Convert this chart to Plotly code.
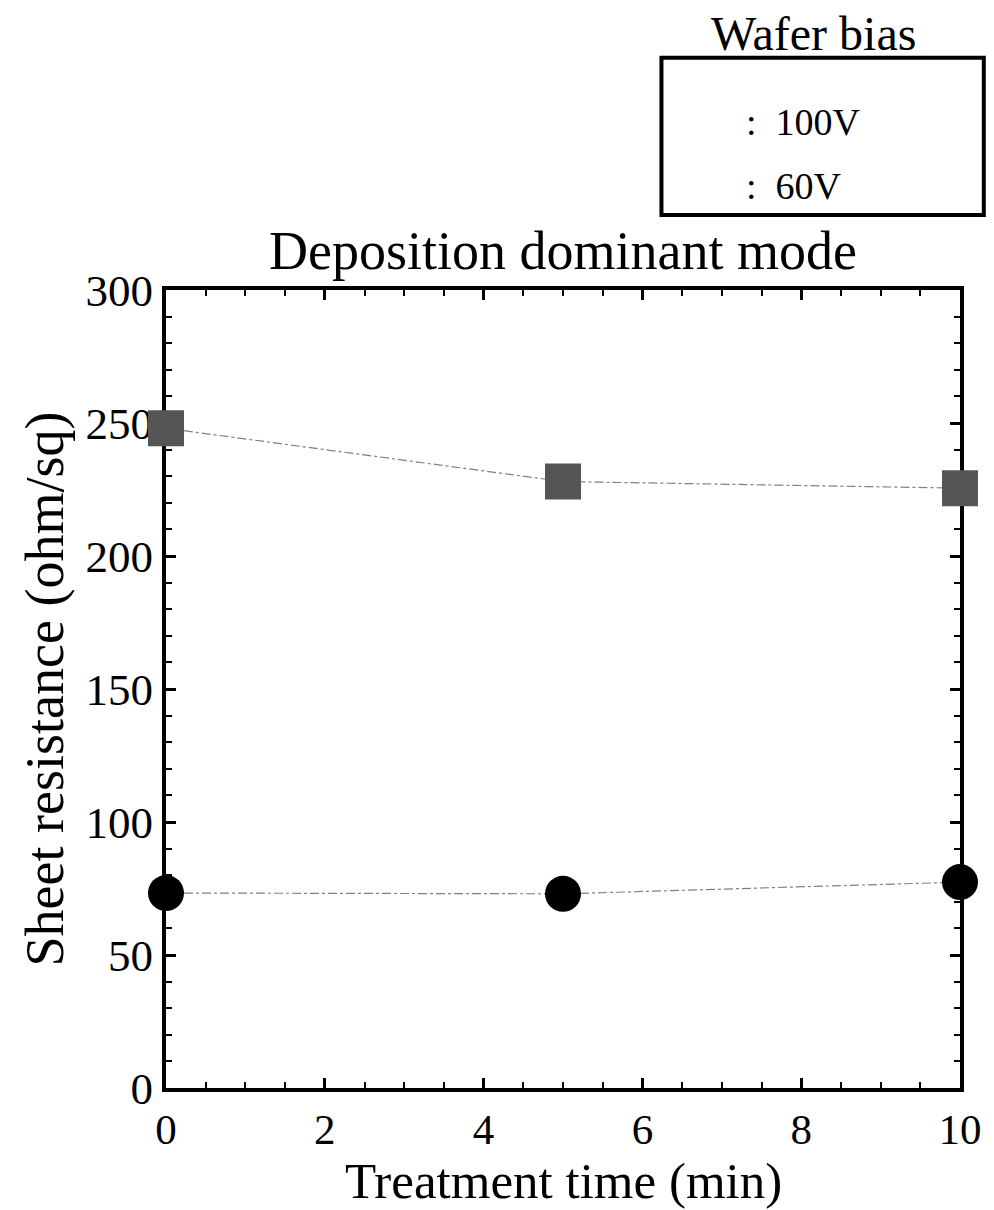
import plotly.graph_objects as go

# Treatment time (min) and sheet resistance (ohm/sq) per wafer bias
time_min = [0, 5, 10]
rs_100v = [248, 228, 225.5]
rs_60v = [73.3, 73, 77.4]
series_labels = ["100V", "60V"]

FONT = "'Liberation Serif', 'Times New Roman', Times, serif"

fig = go.Figure()
fig.add_trace(go.Scatter(
    x=time_min, y=rs_100v, mode="lines+markers", cliponaxis=False,
    line=dict(color="#808080", width=1.2, dash="dashdot"),
    marker=dict(symbol="square", size=36, color="#555555"),
    showlegend=False,
))
fig.add_trace(go.Scatter(
    x=time_min, y=rs_60v, mode="lines+markers", cliponaxis=False,
    line=dict(color="#808080", width=1.2, dash="dashdot"),
    marker=dict(symbol="circle", size=36, color="#000000"),
    showlegend=False,
))

axis_common = dict(
    showline=True, linecolor="black", linewidth=4, mirror="ticks",
    ticks="inside", tickcolor="black", tickwidth=3, ticklen=10,
    showgrid=False, zeroline=False, layer="below traces",
)

fig.update_xaxes(
    range=[0, 10], dtick=2, tick0=0,
    minor=dict(dtick=0.5, ticks="inside", ticklen=6, tickwidth=2, tickcolor="black"),
    tickfont=dict(family=FONT, size=43, color="black"),
    title=None,
    **axis_common,
)
fig.update_yaxes(
    range=[0, 300], dtick=50, tick0=0,
    minor=dict(dtick=10, ticks="inside", ticklen=6, tickwidth=2, tickcolor="black"),
    tickfont=dict(family=FONT, size=45, color="black"),
    title=dict(text="Sheet resistance (ohm/sq)", font=dict(family=FONT, size=54, color="black"), standoff=6),
    **axis_common,
)

# x-axis title placed below the tick labels
fig.add_annotation(xref="paper", yref="paper", x=0.5, y=-0.1165, text="Treatment time (min)",
                   showarrow=False, font=dict(family=FONT, size=51, color="black"),
                   xanchor="center", yanchor="middle")

# Legend box drawn with shapes and text
fig.add_shape(type="rect", xref="paper", yref="paper",
              x0=0.624, x1=1.03, y0=1.094, y1=1.291,
              line=dict(color="black", width=4), fillcolor="white")
fig.add_annotation(xref="paper", yref="paper", x=0.815, y=1.322, text="Wafer bias",
                   showarrow=False, font=dict(family=FONT, size=48, color="black"),
                   xanchor="center", yanchor="middle")
for label, ypos in zip(series_labels, [1.2105, 1.130]):
    fig.add_annotation(xref="paper", yref="paper", x=0.7275, y=ypos, text=":  " + label,
                       showarrow=False, font=dict(family=FONT, size=38, color="black"),
                       xanchor="left", yanchor="middle")

fig.add_annotation(xref="paper", yref="paper", x=0.5, y=1.049, text="Deposition dominant mode",
                   showarrow=False, font=dict(family=FONT, size=54, color="black"),
                   xanchor="center", yanchor="middle")

fig.update_layout(
    width=994, height=1210,
    margin=dict(l=166, r=28, t=290, b=122),
    paper_bgcolor="white", plot_bgcolor="white",
    font=dict(family=FONT, color="black"),
)

fig.write_html("out.html")
